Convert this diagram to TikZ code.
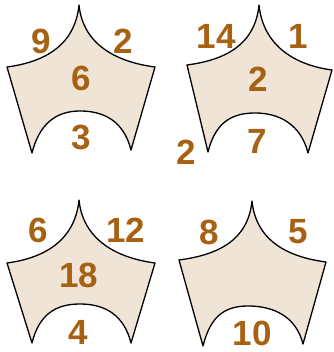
\documentclass[tikz,border=0pt]{standalone}
\usepackage{fontspec}
\setmainfont{Liberation Sans}
\usetikzlibrary{calc}
\definecolor{numbrown}{RGB}{166,98,18}
\definecolor{tilefill}{RGB}{240,228,214}
\tikzset{
  num/.style={text=numbrown,font=\fontsize{35}{35}\selectfont\bfseries,inner sep=0pt},
  tile/.style={draw=black,line width=1.3pt,fill=tilefill,line join=round}
}
\newcommand{\tileshape}[6]{% L P R BR A BL
  \draw[tile] (#1) .. controls ($(#1)+(38,-5)$) and ($(#2)+(-4,40)$) .. (#2)
    .. controls ($(#2)+(4,40)$) and ($(#3)+(-38,-5)$) .. (#3) -- (#4)
    .. controls ($(#4)+(-7,-28)$) and ($(#5)+(25,0)$) .. (#5)
    .. controls ($(#5)+(-25,0)$) and ($(#6)+(7,-28)$) .. (#6) -- cycle;}
\begin{document}
\begin{tikzpicture}[x=1pt,y=-1pt]
  \fill[white] (0,0) rectangle (333,352);
  \useasboundingbox (0,0) rectangle (333,352);
  \tileshape{7,67}{79,5}{155,67}{131,150}{80,111}{32,153}
  \tileshape{187,65}{259,5}{332,70}{308,153}{255,113}{208,152}
  \tileshape{7,263}{79,200}{155,263}{131,343}{80,304}{32,343}
  \tileshape{179,260}{252,201}{326,262}{303,344}{248,306}{203,346}
  % tile 1
  \node[num] (a1) at (41,41) {9};
  \node[num] (a2) at (123,41) {2};
  \node[num] (a3) at (81,78) {6};
  \node[num] (a4) at (81,137) {3};
  % tile 2
  \node[num] (b1) at (216,36) {14};
  \node[num] (b2) at (298,36) {1};
  \node[num] (b3) at (258,79) {2};
  \node[num] (b4) at (257,141) {7};
  \node[num] (b5) at (186,152) {2};
  % tile 3
  \node[num] (c1) at (38,230) {6};
  \node[num] (c2) at (126,230) {12};
  \node[num] (c3) at (79,275) {18};
  \node[num] (c4) at (78,332) {4};
  % tile 4
  \node[num] (d1) at (209,232) {8};
  \node[num] (d2) at (298,232) {5};
  \node[num] (d3) at (252,333) {10};
\end{tikzpicture}
\end{document}
